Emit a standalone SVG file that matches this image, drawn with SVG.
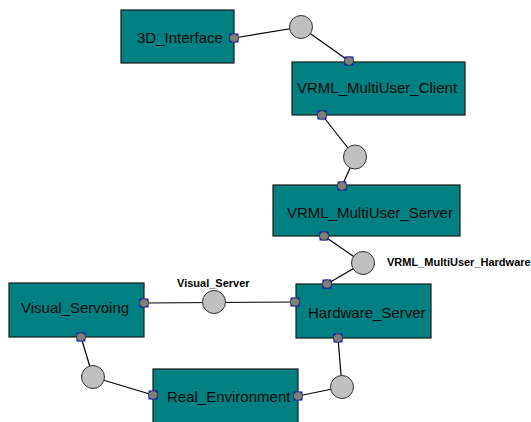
<svg xmlns="http://www.w3.org/2000/svg" width="531" height="422" viewBox="0 0 531 422">
  <style>
    .box { fill: #008080; stroke: #1a1a1a; stroke-width: 1.2; }
    .name { font-family: "Liberation Sans", Arial, sans-serif; font-size: 15px; fill: #0a0a0a; }
    .lbl { font-family: "Liberation Sans", Arial, sans-serif; font-size: 11px; font-weight: bold; fill: #000; }
    .iface { fill: #c0c0c0; stroke: #333; stroke-width: 1; }
    .wire { stroke: #000; stroke-width: 1.2; fill: none; }
  </style>
  <defs>
    <g id="port">
      <rect x="-4.5" y="-4.5" width="9" height="9" fill="#1010ee"/>
      <ellipse cx="0" cy="0" rx="4.6" ry="4.2" fill="#7f7f7f" stroke="#333" stroke-width="0.8"/>
    </g>
  </defs>

  <!-- connectors: port to interface circle -->
  <g id="connectors">
    <line class="wire" x1="234" y1="38" x2="301" y2="27"/>
    <line class="wire" x1="301" y1="27" x2="349" y2="61"/>
    <line class="wire" x1="322" y1="115" x2="355" y2="157"/>
    <line class="wire" x1="355" y1="157" x2="342" y2="186"/>
    <line class="wire" x1="324" y1="236" x2="363" y2="263"/>
    <line class="wire" x1="363" y1="263" x2="327" y2="284"/>
    <line class="wire" x1="144" y1="303" x2="295" y2="302"/>
    <line class="wire" x1="81" y1="337" x2="93" y2="377"/>
    <line class="wire" x1="93" y1="377" x2="153" y2="395"/>
    <line class="wire" x1="338" y1="338" x2="342" y2="387"/>
    <line class="wire" x1="342" y1="387" x2="298" y2="396"/>
  </g>

  <!-- components -->
  <g id="n3D_Interface">
    <rect class="box" x="121" y="10" width="113" height="53"/>
    <text class="name" x="137" y="43">3D_Interface</text>
    <use href="#port" x="234" y="38"/>
  </g>

  <g id="VRML_MultiUser_Client">
    <rect class="box" x="292" y="62" width="173" height="53"/>
    <text class="name" x="297" y="93">VRML_MultiUser_Client</text>
    <use href="#port" x="349" y="61"/>
    <use href="#port" x="322" y="115"/>
  </g>

  <g id="VRML_MultiUser_Server">
    <rect class="box" x="273" y="185" width="187" height="51"/>
    <text class="name" x="287" y="218">VRML_MultiUser_Server</text>
    <use href="#port" x="342" y="186"/>
    <use href="#port" x="324" y="236"/>
  </g>

  <g id="Hardware_Server">
    <rect class="box" x="296" y="284" width="135" height="54"/>
    <text class="name" x="308" y="318">Hardware_Server</text>
    <use href="#port" x="327" y="284"/>
    <use href="#port" x="295" y="302"/>
    <use href="#port" x="338" y="338"/>
  </g>

  <g id="Visual_Servoing">
    <rect class="box" x="9" y="283" width="135" height="54"/>
    <text class="name" x="21" y="313">Visual_Servoing</text>
    <use href="#port" x="144" y="303"/>
    <use href="#port" x="81" y="337"/>
  </g>

  <g id="Real_Environment">
    <rect class="box" x="153" y="369" width="145" height="60"/>
    <text class="name" x="167" y="402">Real_Environment</text>
    <use href="#port" x="153" y="395"/>
    <use href="#port" x="298" y="396"/>
  </g>

  <!-- provided/required interface circles -->
  <g id="iface_client">
    <ellipse class="iface" cx="301" cy="27" rx="11.5" ry="11.5"/>
  </g>
  <g id="iface_server">
    <ellipse class="iface" cx="355" cy="157" rx="11.5" ry="12"/>
  </g>
  <g id="VRML_MultiUser_Hardware">
    <ellipse class="iface" cx="363" cy="263" rx="11.5" ry="11.5"/>
    <text class="lbl" x="387" y="266">VRML_MultiUser_Hardware</text>
  </g>
  <g id="Visual_Server">
    <ellipse class="iface" cx="214" cy="302" rx="11.5" ry="11.5"/>
    <text class="lbl" x="177" y="287">Visual_Server</text>
  </g>
  <g id="iface_visual_env">
    <ellipse class="iface" cx="93" cy="377" rx="11.5" ry="11.5"/>
  </g>
  <g id="iface_hw_env">
    <ellipse class="iface" cx="342" cy="387" rx="11.5" ry="11.5"/>
  </g>
</svg>
